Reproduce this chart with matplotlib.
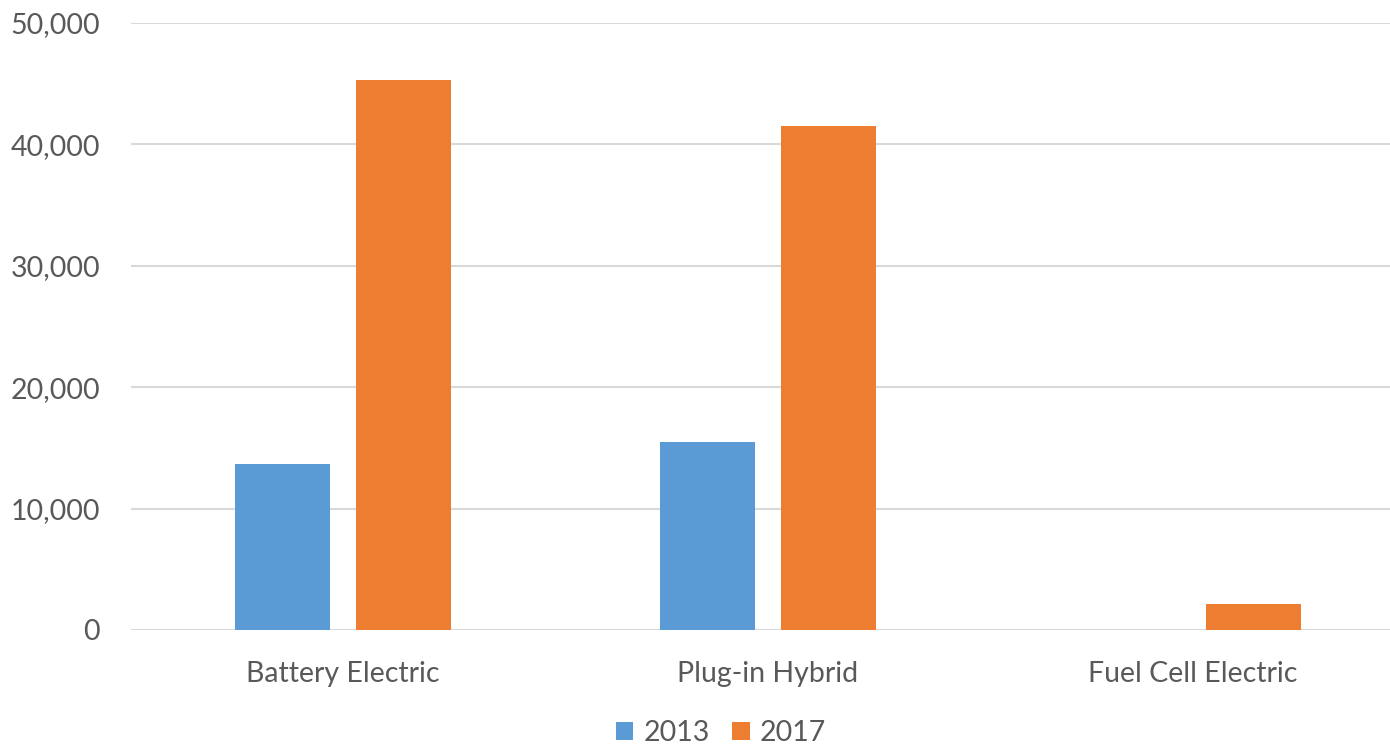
import numpy as np
import matplotlib.pyplot as plt
from matplotlib.ticker import FuncFormatter

categories = ['Battery Electric', 'Plug-in Hybrid', 'Fuel Cell Electric']
years = ['2013', '2017']
sales_2013 = [13650, 15500, 0]
sales_2017 = [45250, 41480, 2140]

plt.rcParams['font.family'] = ['Lato', 'DejaVu Sans']
text_color = '#595959'

fig = plt.figure(figsize=(13.9, 7.46), dpi=100)
# plot area runs a little past the right edge of the picture, as in the original
ax = fig.add_axes([130.8 / 1390, 1 - 630 / 746, 1274 / 1390, (630 - 22.7) / 746])

x = np.arange(len(categories))
w = 0.224
off = 0.143
ax.bar(x - off, sales_2013, w, color='#5b9bd5', label=years[0], zorder=3)
ax.bar(x + off, sales_2017, w, color='#ed7d31', label=years[1], zorder=3)

ax.set_xlim(-0.5, 2.5)
ax.set_ylim(0, 50000)
ax.set_yticks(np.arange(0, 50001, 10000))
ax.yaxis.set_major_formatter(FuncFormatter(lambda v, p: f'{int(v):,}'))
ax.grid(axis='y', color='#d9d9d9', linewidth=1.5, zorder=0)
for s in ax.spines.values():
    s.set_visible(False)
ax.set_xticks(x)
ax.set_xticklabels(categories)
ax.tick_params(axis='both', length=0, labelsize=20.5, colors=text_color)
ax.tick_params(axis='y', pad=22)
ax.tick_params(axis='x', pad=22)

leg = fig.legend(loc='center', bbox_to_anchor=(721 / 1390, 1 - 733 / 746), ncol=2,
                 frameon=False, fontsize=20.5, handlelength=0.6, handleheight=0.6,
                 handletextpad=0.35, columnspacing=0.8, borderaxespad=0)
for t in leg.get_texts():
    t.set_color(text_color)

fig.savefig('out.png', dpi=100)
